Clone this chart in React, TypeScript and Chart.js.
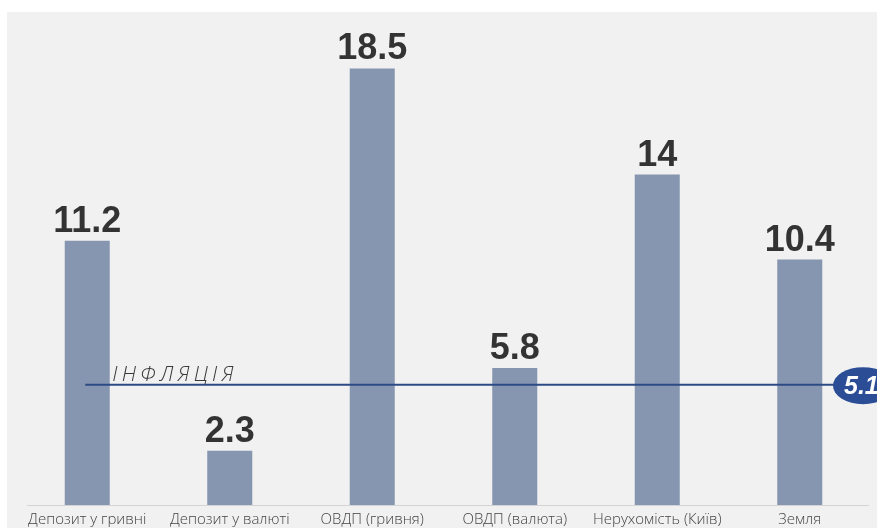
import React, { useEffect, useRef } from "react";
import { Chart, registerables } from "chart.js";
Chart.register(...registerables);

const categories = [
  "Депозит у гривні",
  "Депозит у валюті",
  "ОВДП (гривня)",
  "ОВДП (валюта)",
  "Нерухомість (Київ)",
  "Земля",
];
const returns = [11.2, 2.3, 18.5, 5.8, 14, 10.4];
const valueLabels = ["11.2", "2.3", "18.5", "5.8", "14", "10.4"];
const inflation = 5.1;
const inflationText = "ІНФЛЯЦІЯ";
const inflationBadge = "5.1";

const W = 877;
const H = 528;

const decorPlugin = {
  id: "decor",
  beforeDraw(chart: any) {
    const ctx = chart.ctx;
    ctx.save();
    ctx.fillStyle = "#ffffff";
    ctx.fillRect(0, 0, chart.width, chart.height);
    ctx.fillStyle = "#f1f1f1";
    ctx.fillRect(7, 12, chart.width - 7, chart.height - 12);
    const y0 = Math.round(chart.scales.y.getPixelForValue(0));
    ctx.strokeStyle = "#d4d4d4";
    ctx.lineWidth = 1;
    ctx.beginPath();
    ctx.moveTo(27, y0 + 0.5);
    ctx.lineTo(869, y0 + 0.5);
    ctx.stroke();
    ctx.restore();
  },
  afterDatasetsDraw(chart: any) {
    const ctx = chart.ctx;
    const meta = chart.getDatasetMeta(0);
    ctx.save();
    // value labels
    ctx.fillStyle = "#333333";
    ctx.font = "bold 36px 'Liberation Sans', Arial, sans-serif";
    ctx.textAlign = "center";
    ctx.textBaseline = "alphabetic";
    meta.data.forEach((bar: any, i: number) => {
      ctx.fillText(valueLabels[i], bar.x, bar.y - 9);
    });
    // inflation line
    const yi = chart.scales.y.getPixelForValue(inflation);
    const x0 = meta.data[0].x - 2;
    const cx = chart.width - 14;
    ctx.strokeStyle = "#2c4a85";
    ctx.lineWidth = 2;
    ctx.beginPath();
    ctx.moveTo(x0, yi);
    ctx.lineTo(cx, yi);
    ctx.stroke();
    // badge
    ctx.fillStyle = "#2a4d96";
    ctx.beginPath();
    ctx.ellipse(cx, yi + 1, 30, 18.5, 0, 0, Math.PI * 2);
    ctx.fill();
    ctx.fillStyle = "#ffffff";
    ctx.font = "italic bold 25px 'Liberation Sans', Arial, sans-serif";
    ctx.textAlign = "left";
    ctx.textBaseline = "middle";
    ctx.fillText(inflationBadge, cx - 19, yi + 2);
    // inflation text
    ctx.fillStyle = "#3a3a3a";
    ctx.font = "italic 300 21px 'Open Sans', sans-serif";
    (ctx as any).letterSpacing = "4.2px";
    ctx.textAlign = "left";
    ctx.textBaseline = "alphabetic";
    ctx.fillText(inflationText, x0 + 27, yi - 4);
    ctx.restore();
  },
};

export default function App() {
  const ref = useRef<HTMLCanvasElement | null>(null);
  useEffect(() => {
    if (!ref.current) return;
    const chart = new Chart(ref.current, {
      type: "bar",
      data: {
        labels: categories,
        datasets: [
          {
            data: returns,
            backgroundColor: "#8796b0",
            borderWidth: 0,
            barPercentage: 1,
            categoryPercentage: 0.316,
          },
        ],
      },
      options: {
        responsive: false,
        animation: false,
        devicePixelRatio: 1,
        layout: { padding: { left: 16, right: 6, top: 33, bottom: 0 } },
        plugins: { legend: { display: false }, tooltip: { enabled: false } },
        scales: {
          x: {
            grid: { display: false, drawTicks: false },
            border: { display: false },
            afterFit: (scale: any) => {
              scale.height = 23;
            },
            ticks: {
              autoSkip: false,
              maxRotation: 0,
              padding: 6,
              color: "#444444",
              font: { family: "'Open Sans', sans-serif", size: 15, weight: "300" },
            },
          },
          y: { display: false, min: 0, max: 20 },
        },
      },
      plugins: [decorPlugin],
    });
    return () => chart.destroy();
  }, []);
  return (
    <div style={{ position: "absolute", left: 0, top: 0, width: W, height: H }}>
      <canvas ref={ref} width={W} height={H} style={{ width: W, height: H }} />
    </div>
  );
}
